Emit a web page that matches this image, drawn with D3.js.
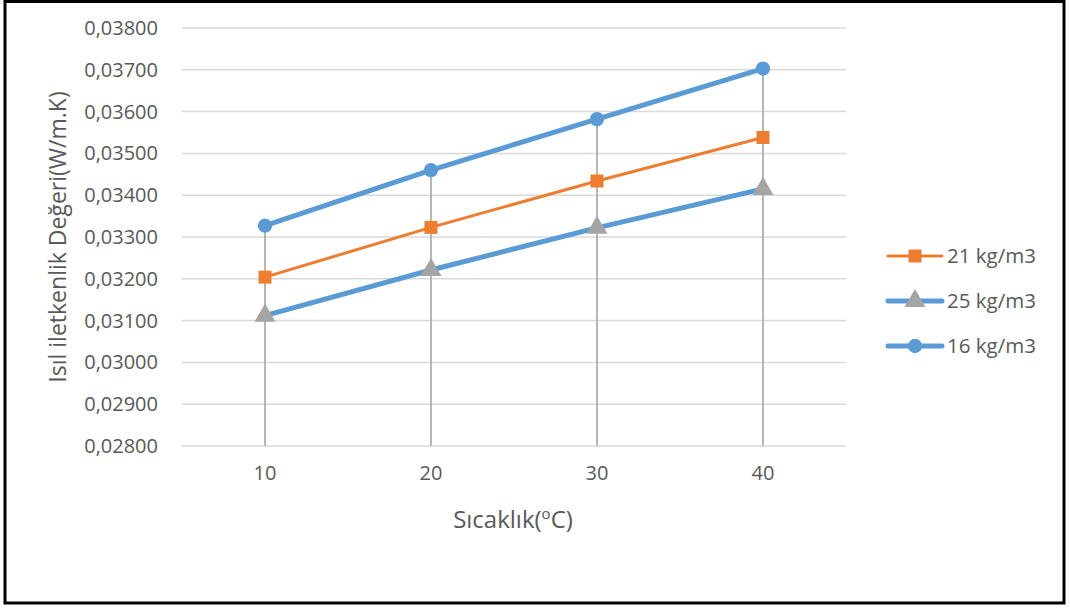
<!DOCTYPE html>
<html><head><meta charset="utf-8">
<script src="https://cdn.jsdelivr.net/npm/d3@7"></script>
<style>body{margin:0;background:#fff}svg{display:block}text{font-family:"Open Sans",sans-serif;fill:#595959}</style>
</head><body><svg id="c" width="1070" height="608"></svg>
<script>
const categories = ["10","20","30","40"];
const s21 = [0.03204, 0.03323, 0.03434, 0.03538];
const s25 = [0.03112, 0.03221, 0.03322, 0.03415];
const s16 = [0.03327, 0.03460, 0.03582, 0.03703];
const yTicks = [0.028,0.029,0.030,0.031,0.032,0.033,0.034,0.035,0.036,0.037,0.038];
const seriesNames = ["21 kg/m3","25 kg/m3","16 kg/m3"];

const svg = d3.select("#c");
svg.append("rect").attr("x",5).attr("y",1.5).attr("width",1059).attr("height",601.5)
  .attr("fill","#fff").attr("stroke","#000").attr("stroke-width",3);

const x = d3.scaleBand().domain(categories).range([182,846]);
const y = d3.scaleLinear().domain([0.028,0.038]).range([446,28]);
const cx = d => x(d)+x.bandwidth()/2;
const fmt = v => d3.format(".5f")(v).replace(".",",");

// gridlines
svg.append("g").selectAll("line").data(yTicks).join("line")
  .attr("x1",182).attr("x2",846).attr("y1",d=>y(d)).attr("y2",d=>y(d))
  .attr("stroke","#D9D9D9").attr("stroke-width",1.5);

// y axis labels
const ya = svg.append("g").attr("transform","translate(158,0)")
  .call(d3.axisLeft(y).tickValues(yTicks).tickFormat(fmt).tickSize(0).tickPadding(0));
ya.select(".domain").remove();
ya.attr("font-size",null).attr("font-family",null);
ya.selectAll("text").style("font-size","20px").attr("fill","#595959");

// x axis labels
const xa = svg.append("g").attr("transform","translate(0,466)")
  .call(d3.axisBottom(x).tickSize(0).tickPadding(0));
xa.select(".domain").remove();
xa.attr("font-size",null).attr("font-family",null);
xa.selectAll("text").style("font-size","20px").attr("fill","#595959");

// drop lines
const maxes = categories.map((c,i)=>Math.max(s21[i],s25[i],s16[i]));
svg.append("g").selectAll("line").data(categories).join("line")
  .attr("x1",d=>cx(d)).attr("x2",d=>cx(d))
  .attr("y1",(d,i)=>y(maxes[i])).attr("y2",y(0.028))
  .attr("stroke","#A5A5A5").attr("stroke-width",1.6);

const line = d3.line().x((d,i)=>cx(categories[i])).y(d=>y(d));
svg.append("path").datum(s21).attr("d",line).attr("fill","none").attr("stroke","#ED7D31").attr("stroke-width",3);
svg.append("path").datum(s25).attr("d",line).attr("fill","none").attr("stroke","#5B9BD5").attr("stroke-width",5);
svg.append("path").datum(s16).attr("d",line).attr("fill","none").attr("stroke","#5B9BD5").attr("stroke-width",5);

const sq = d3.symbol().type(d3.symbolSquare).size(169)();
const tri = d3.symbol().type(d3.symbolTriangle).size(190)();
const circ = d3.symbol().type(d3.symbolCircle).size(160)();
function markers(data, sym, color){
  svg.append("g").selectAll("path").data(data).join("path")
    .attr("d",sym).attr("fill",color)
    .attr("transform",(d,i)=>`translate(${cx(categories[i])},${y(d)})`);
}
markers(s21, sq, "#ED7D31");
markers(s25, tri, "#A5A5A5");
markers(s16, circ, "#5B9BD5");

// axis titles
const xt = svg.append("text").attr("x",513).attr("y",528).attr("text-anchor","middle").style("font-size","24px");
xt.append("tspan").text("Sıcaklık(");
xt.append("tspan").text("o").attr("dy",-9).style("font-size","15px");
xt.append("tspan").text("C)").attr("dy",9);
svg.append("text").attr("transform","translate(66,237) rotate(-90)").attr("text-anchor","middle")
  .style("font-size","23px").text("Isıl iletkenlik Değeri(W/m.K)");

// legend
const leg = [{n:seriesNames[0],c:"#ED7D31",m:"#ED7D31",sym:sq,w:3},
             {n:seriesNames[1],c:"#5B9BD5",m:"#A5A5A5",sym:tri,w:5},
             {n:seriesNames[2],c:"#5B9BD5",m:"#5B9BD5",sym:circ,w:5}];
const lg = svg.append("g").selectAll("g").data(leg).join("g")
  .attr("transform",(d,i)=>`translate(0,${256+i*45})`);
lg.append("line").attr("x1",888).attr("x2",942).attr("stroke",d=>d.c).attr("stroke-width",d=>d.w).attr("stroke-linecap","round");
lg.append("path").attr("d",d=>d.sym).attr("fill",d=>d.m).attr("transform","translate(915,0)");
lg.append("text").attr("x",947).attr("y",0).attr("dy","0.35em").style("font-size","20.5px").text(d=>d.n);
</script></body></html>
